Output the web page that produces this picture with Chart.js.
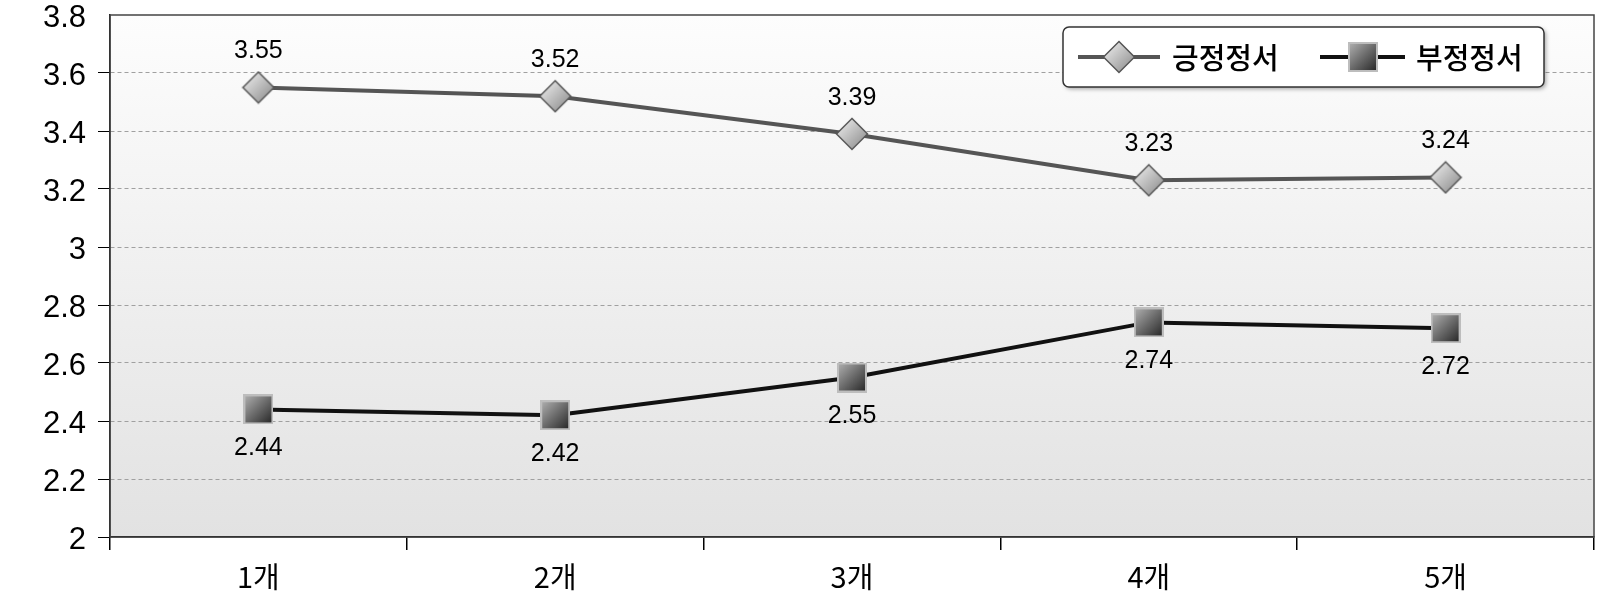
<!DOCTYPE html>
<html>
<head>
<meta charset="utf-8">
<script src="https://cdn.jsdelivr.net/npm/chart.js@4/dist/chart.umd.min.js"></script>
<style>
  html, body { margin: 0; padding: 0; background: #ffffff; }
  #wrap { width: 1610px; height: 607px; }
</style>
</head>
<body>
<div id="wrap"><canvas id="chart" width="1610" height="607"></canvas></div>
<script>
// 데이터
const categories = ['1개', '2개', '3개', '4개', '5개'];
const seriesNames = ['긍정정서', '부정정서'];
const positiveValues = [3.55, 3.52, 3.39, 3.23, 3.24];
const negativeValues = [2.44, 2.42, 2.55, 2.74, 2.72];
const yTicks = [2, 2.2, 2.4, 2.6, 2.8, 3, 3.2, 3.4, 3.6, 3.8];

const numFont = "'Liberation Sans', 'Noto Sans CJK KR', sans-serif";
const krFont = "'Noto Sans CJK KR', 'Liberation Sans', sans-serif";

// 마커 이미지 (그라데이션)
function makeDiamond(size) {
    const c = document.createElement('canvas');
    c.width = size; c.height = size;
    const g = c.getContext('2d');
    const h = size / 2;
    const grad = g.createLinearGradient(2, 2, size - 2, size - 2);
    grad.addColorStop(0, '#f2f2f2');
    grad.addColorStop(1, '#888888');
    g.beginPath();
    g.moveTo(h, 1.5); g.lineTo(size - 1.5, h); g.lineTo(h, size - 1.5); g.lineTo(1.5, h);
    g.closePath();
    g.fillStyle = grad; g.fill();
    g.lineWidth = 1.5; g.strokeStyle = '#555555'; g.stroke();
    return c;
}

function makeSquare(size) {
    const c = document.createElement('canvas');
    c.width = size; c.height = size;
    const g = c.getContext('2d');
    const grad = g.createLinearGradient(1, 1, size - 1, size - 1);
    grad.addColorStop(0, '#b0b0b0');
    grad.addColorStop(1, '#262626');
    g.fillStyle = grad;
    g.fillRect(1, 1, size - 2, size - 2);
    g.lineWidth = 2; g.strokeStyle = '#bdbdbd';
    g.strokeRect(1, 1, size - 2, size - 2);
    return c;
}

const diamondImg = makeDiamond(34);
const squareImg = makeSquare(30);

// 플롯 영역 배경 + 테두리
const plotBackground = {
    id: 'plotBackground',
    beforeDraw(chart) {
        const { ctx, chartArea: a } = chart;
        const grad = ctx.createLinearGradient(0, a.top, 0, a.bottom);
        grad.addColorStop(0, '#fdfdfd');
        grad.addColorStop(1, '#e2e2e2');
        ctx.save();
        ctx.fillStyle = grad;
        ctx.fillRect(a.left, a.top, a.right - a.left, a.bottom - a.top);
        ctx.restore();
    },
    beforeDatasetsDraw(chart) {
        const { ctx, chartArea: a } = chart;
        ctx.save();
        ctx.strokeStyle = '#444444';
        ctx.lineWidth = 1.5;
        ctx.strokeRect(a.left, a.top, a.right - a.left, a.bottom - a.top);
        ctx.restore();
    }
};

// 데이터 레이블
const valueLabels = {
    id: 'valueLabels',
    afterDatasetsDraw(chart) {
        const ctx = chart.ctx;
        ctx.save();
        ctx.font = '25px ' + numFont;
        ctx.fillStyle = '#000000';
        ctx.textAlign = 'center';
        ctx.textBaseline = 'middle';
        chart.data.datasets.forEach((ds, i) => {
            const off = i === 0 ? -36 : 39;
            chart.getDatasetMeta(i).data.forEach((pt, j) => {
                ctx.fillText(ds.data[j].toFixed(2), pt.x, pt.y + off);
            });
        });
        ctx.restore();
    }
};

// 범례
const boxLegend = {
    id: 'boxLegend',
    afterDraw(chart) {
        const ctx = chart.ctx;
        const x = 1063, y = 27, w = 481, h = 60, r = 6;
        ctx.save();
        ctx.shadowColor = 'rgba(0,0,0,0.35)';
        ctx.shadowBlur = 4;
        ctx.shadowOffsetX = 2;
        ctx.shadowOffsetY = 2;
        ctx.beginPath();
        ctx.roundRect(x, y, w, h, r);
        ctx.fillStyle = '#ffffff';
        ctx.fill();
        ctx.shadowColor = 'transparent';
        ctx.lineWidth = 1.5;
        ctx.strokeStyle = '#333333';
        ctx.stroke();

        const cy = y + h / 2;
        const items = [
            { x1: 1078, x2: 1160, mx: 1119, color: '#555555', img: diamondImg, tx: 1172 },
            { x1: 1320, x2: 1405, mx: 1363, color: '#111111', img: squareImg, tx: 1416 }
        ];
        items.forEach((it, i) => {
            ctx.beginPath();
            ctx.moveTo(it.x1, cy); ctx.lineTo(it.x2, cy);
            ctx.lineWidth = 4; ctx.strokeStyle = it.color; ctx.stroke();
            ctx.drawImage(it.img, it.mx - it.img.width / 2, cy - it.img.height / 2);
            ctx.font = '500 29px ' + krFont;
            ctx.fillStyle = '#000000';
            ctx.textAlign = 'left';
            ctx.textBaseline = 'middle';
            ctx.fillText(seriesNames[i], it.tx, cy + 1);
        });
        ctx.restore();
    }
};

const isTopTick = c => c.tick && c.tick.value === 3.8;

new Chart(document.getElementById('chart'), {
    type: 'line',
    data: {
        labels: categories,
        datasets: [
            {
                label: seriesNames[0],
                data: positiveValues,
                borderColor: '#555555',
                borderWidth: 4,
                pointStyle: diamondImg,
                pointRadius: 16,
                tension: 0
            },
            {
                label: seriesNames[1],
                data: negativeValues,
                borderColor: '#111111',
                borderWidth: 4,
                pointStyle: squareImg,
                pointRadius: 15,
                tension: 0
            }
        ]
    },
    options: {
        responsive: false,
        animation: false,
        layout: { autoPadding: false, padding: { top: 15, right: 16, left: 0, bottom: 0 } },
        plugins: {
            legend: { display: false },
            tooltip: { enabled: false }
        },
        scales: {
            x: {
                offset: true,
                grid: {
                    offset: true,
                    drawOnChartArea: false,
                    drawTicks: true,
                    tickLength: 13,
                    color: '#000000',
                    lineWidth: 1.5
                },
                border: { color: '#000000', width: 1.5 },
                ticks: {
                    color: '#000000',
                    font: { family: krFont, size: 29 },
                    padding: 10
                },
                afterFit: scale => { scale.height = 70; scale.paddingLeft = 0; scale.paddingRight = 0; }
            },
            y: {
                min: 2,
                max: 3.8,
                afterBuildTicks: scale => { scale.ticks = yTicks.map(v => ({ value: v })); },
                grid: {
                    color: c => (c.tick && (c.tick.value === 2 || c.tick.value === 3.8)) ? 'rgba(0,0,0,0)' : '#a0a0a0',
                    lineWidth: 1,
                    tickBorderDash: [1, 0],
                    tickColor: c => isTopTick(c) ? 'rgba(0,0,0,0)' : '#000000',
                    tickLength: 12
                },
                border: { color: '#000000', width: 1.5, dash: [4, 3] },
                ticks: {
                    color: '#000000',
                    font: { family: numFont, size: 31 },
                    padding: 12,
                    labelOffset: 3,
                    callback: v => String(Number(v.toFixed(1)))
                },
                afterFit: scale => { scale.width = 110; scale.paddingTop = 0; scale.paddingBottom = 0; }
            }
        }
    },
    plugins: [plotBackground, valueLabels, boxLegend]
});
</script>
</body>
</html>
